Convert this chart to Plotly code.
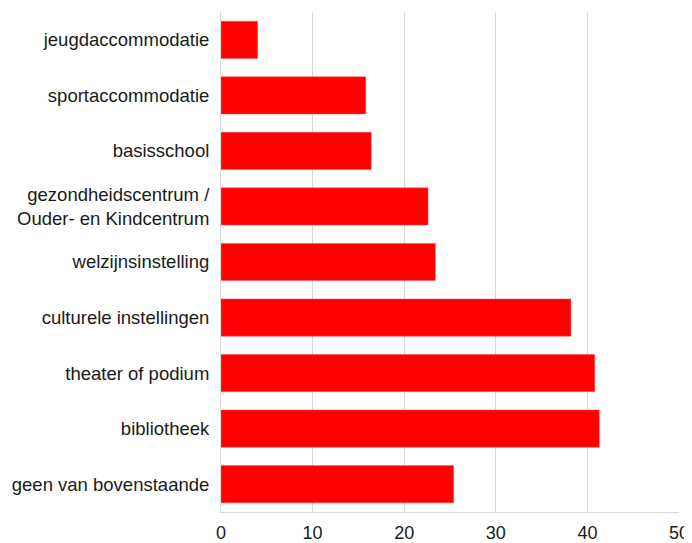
import plotly.graph_objects as go

categories = [
    "jeugdaccommodatie",
    "sportaccommodatie",
    "basisschool",
    "gezondheidscentrum /<br>Ouder- en Kindcentrum",
    "welzijnsinstelling",
    "culturele instellingen",
    "theater of podium",
    "bibliotheek",
    "geen van bovenstaande",
]
values = [4.0, 15.8, 16.4, 22.6, 23.4, 38.2, 40.8, 41.3, 25.4]
tick_vals = [0, 10, 20, 30, 40, 50]

fig = go.Figure(
    go.Bar(
        x=values,
        y=categories,
        orientation="h",
        marker=dict(color="#FF0000", line=dict(color="#FF5555", width=0.5)),
    )
)

# page body has an 8px margin, so margins are reduced by 8px on left/top
fig.update_layout(
    width=692,
    height=543,
    margin=dict(l=213, r=21, t=4, b=39),
    paper_bgcolor="white",
    plot_bgcolor="white",
    bargap=0.33,
    font=dict(family="Liberation Sans, Arial, sans-serif", size=18, color="#1a1a1a"),
    showlegend=False,
)
fig.update_xaxes(
    range=[0, 50],
    tickvals=tick_vals,
    showgrid=True,
    gridcolor="#d9d9d9",
    gridwidth=1,
    zeroline=False,
    showline=True,
    linecolor="#d9d9d9",
    linewidth=1,
    tickfont=dict(size=18),
    ticklabelstandoff=4,
    automargin=False,
)
fig.update_yaxes(
    categoryorder="array",
    categoryarray=categories,
    autorange="reversed",
    showgrid=False,
    zeroline=False,
    showline=True,
    linecolor="#d9d9d9",
    ticklabelstandoff=7,
    tickfont=dict(size=18.5),
    automargin=False,
)

fig.write_html("out.html")
